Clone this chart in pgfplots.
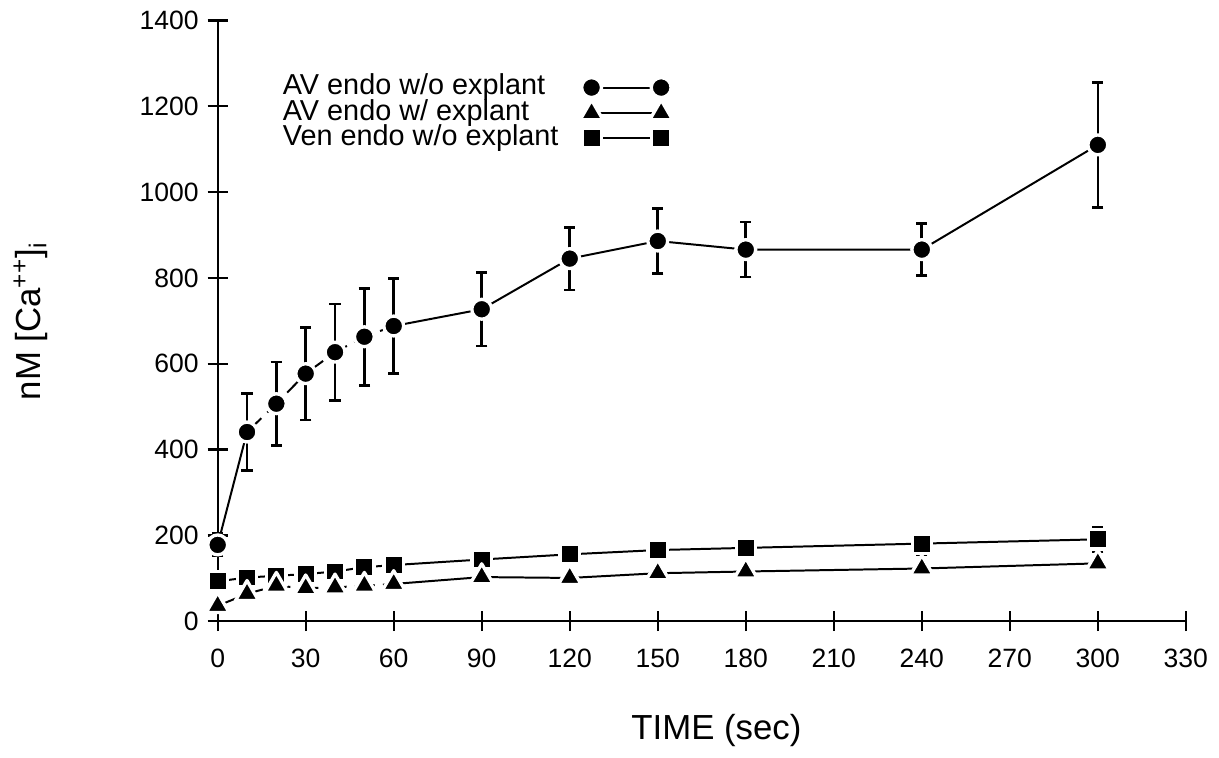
\documentclass[border=0pt]{standalone}
\usepackage{fontspec}
\setmainfont{Liberation Sans}
\usepackage{pgfplots}
\usepackage{pgfplotstable}
\pgfplotsset{compat=1.18}

% AV endo w/o explant (mean, sem)
\pgfplotstableread{
x y e
0 178 26
10 441 90
20 507 97
30 577 108
40 627 112
50 663 113
60 688 110
90 727 86
120 845 73
150 886 76
180 866 64
240 866 61
300 1110 146
}\circdata

% AV endo w/ explant
\pgfplotstableread{
x y
0 36
10 64
20 83
30 77
40 79
50 83
60 87
90 103
120 101
150 112
180 116
240 123
300 135
}\tridata

% Ven endo w/o explant
\pgfplotstableread{
x y e
0 93 8
10 102 8
20 106 8
30 110 8
40 116 8
50 126 8
60 131 8
90 144 8
120 156 8
150 166 8
180 171 23
240 181 25
300 191 28
}\sqdata

\pgfplotsset{
  halo/.style={mark options={solid, draw=white, fill=black, line width=1pt, line join=round}},
  ln/.style={black, line width=0.6pt, forget plot},
  eb/.style={only marks, mark=none, forget plot,
    error bars/.cd, y dir=both, y explicit,
    error bar style={black, line width=0.8pt, solid},
    error mark options={rotate=90, black, line width=0.8pt, mark size=1.7pt}},
  circ/.style={black, line width=0.6pt, mark=*, mark size=3pt, halo},
  tri/.style={black, line width=0.6pt, mark=triangle*, mark size=4pt, halo},
  sq/.style={black, line width=0.6pt, mark=square*, mark size=2.9pt, halo},
}

\begin{document}
\begin{tikzpicture}
\begin{axis}[
  scale only axis, width=292.2pt, height=181.35pt,
  xmin=0, xmax=330, ymin=0, ymax=1400,
  axis lines=left, axis line style={-, line width=0.7pt},
  xtick={0,30,...,330}, ytick={0,200,...,1400},
  tick align=center, major tick length=6pt,
  tick style={black, line width=0.7pt},
  ticklabel style={font=\fontsize{8}{9}\selectfont},
  /pgf/number format/assume math mode=true,
  /pgf/number format/1000 sep={},
  xticklabel style={yshift=-1.8pt},
  yticklabel style={xshift=0.8pt},
  clip=false,
  xlabel={TIME (sec)},
  ylabel={nM [Ca\textsuperscript{++}]\textsubscript{i}},
  label style={font=\fontsize{10.5}{12}\selectfont},
  xlabel style={at={(axis cs:170,0)}, anchor=center, yshift=-33pt},
  ylabel style={at={(axis cs:0,700)}, anchor=center, yshift=56.4pt},
  legend style={at={(axis cs:22,1274)}, anchor=north west, draw=none, fill=none,
    inner sep=0pt, font=\fontsize{8.7}{9}\selectfont,
    nodes={inner sep=0pt, text height=5.9pt, text depth=1.6pt},
    column sep=6.5pt},
  legend plot pos=right, legend cell align=left,
  legend image code/.code={\draw[#1] plot coordinates {(0pt,0pt) (21pt,0pt)};},
]
\addlegendimage{circ}
\addlegendentry{AV endo w/o explant}
\addlegendimage{tri}
\addlegendentry{AV endo w/ explant}
\addlegendimage{sq}
\addlegendentry{Ven endo w/o explant}

% Ven endo w/o explant
\addplot[ln] table[x=x, y=y] {\sqdata};
\addplot[eb] table[x=x, y=y, y error=e] {\sqdata};
\addplot[sq, only marks, forget plot] table[x=x, y=y] {\sqdata};

% AV endo w/ explant
\addplot[ln, dash pattern=on 6pt off 2.5pt, restrict x to domain=0:60] table[x=x, y=y] {\tridata};
\addplot[ln, restrict x to domain=60:300] table[x=x, y=y] {\tridata};
\addplot[tri, only marks, forget plot] table[x=x, y=y] {\tridata};

% AV endo w/o explant
\addplot[ln, restrict x to domain=0:10] table[x=x, y=y] {\circdata};
\addplot[ln, dash pattern=on 6pt off 2.5pt, restrict x to domain=10:60] table[x=x, y=y] {\circdata};
\addplot[ln, restrict x to domain=60:300] table[x=x, y=y] {\circdata};
\addplot[eb] table[x=x, y=y, y error=e] {\circdata};
\addplot[circ, only marks, forget plot] table[x=x, y=y] {\circdata};

\path (axis cs:0,0) ++(-65.7pt,-38.1pt) rectangle ++(365.7pt,225.6pt);
\end{axis}
\end{tikzpicture}
\end{document}
